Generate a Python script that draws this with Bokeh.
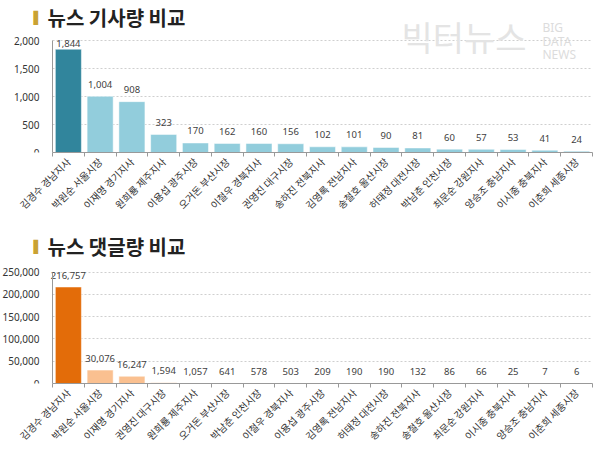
import numpy as np
from bokeh.plotting import figure
from bokeh.layouts import column
from bokeh.models import Range1d, FixedTicker, NumeralTickFormatter, Label, ColumnDataSource
from bokeh.embed import file_html
from bokeh.resources import INLINE
from bokeh.core.properties import value

# ---------------- data ----------------
title1 = "뉴스 기사량 비교"
names1 = ["김경수 경남지사", "박원순 서울시장", "이재명 경기지사", "원희룡 제주지사", "이용섭 광주시장",
          "오거돈 부산시장", "이철우 경북지사", "권영진 대구시장", "송하진 전북지사", "김영록 전남지사",
          "송철호 울산시장", "허태정 대전시장", "박남춘 인천시장", "최문순 강원지사", "양승조 충남지사",
          "이시종 충북지사", "이춘희 세종시장"]
values1 = [1844, 1004, 908, 323, 170, 162, 160, 156, 102, 101, 90, 81, 60, 57, 53, 41, 24]
yticks1 = [0, 500, 1000, 1500, 2000]

title2 = "뉴스 댓글량 비교"
names2 = ["김경수 경남지사", "박원순 서울시장", "이재명 경기지사", "권영진 대구시장", "원희룡 제주지사",
          "오거돈 부산시장", "박남춘 인천시장", "이철우 경북지사", "이용섭 광주시장", "김영록 전남지사",
          "허태정 대전시장", "송하진 전북지사", "송철호 울산시장", "최문순 강원지사", "이시종 충북지사",
          "양승조 충남지사", "이춘희 세종시장"]
values2 = [216757, 30076, 16247, 1594, 1057, 641, 578, 503, 209, 190, 190, 132, 86, 66, 25, 7, 6]
yticks2 = [0, 50000, 100000, 150000, 200000, 250000]

FONT = "Noto Sans CJK KR"
NUMFONT = "Noto Sans"

AXIS_X = 52      # pixel position of the value axis
PLOT_W = 540     # pixel width of the category area


def make_chart(title, names, vals, yticks, c_first, c_rest, height, bottom, title_y, logo=False):
    n = len(names)
    ymax = yticks[-1]
    frame_h = height - bottom
    grid_h = 112.0
    yend = ymax * frame_h / grid_h
    xstart = -AXIS_X * n / PLOT_W
    p = figure(width=600, height=height, output_backend="svg", toolbar_location=None,
               x_range=Range1d(xstart, n), y_range=Range1d(0, yend),
               min_border_left=0, min_border_right=8, min_border_top=0, min_border_bottom=bottom)
    p.outline_line_color = None
    p.background_fill_color = "white"
    p.border_fill_color = "white"
    p.xgrid.grid_line_color = None
    p.ygrid.ticker = FixedTicker(ticks=yticks)
    p.ygrid.grid_line_color = "#cfcfcf"
    p.ygrid.grid_line_dash = "2 2"
    p.ygrid.cross_bounds = (0, n)

    xs = [i + 0.5 for i in range(n)]
    colors = [c_first] + [c_rest] * (n - 1)
    per_px = ymax / grid_h
    label_y = [min(v + 12 * per_px, ymax - 3 * per_px) for v in vals]
    src = ColumnDataSource(dict(x=xs, top=vals, color=colors, ly=label_y,
                                txt=[f"{v:,}" for v in vals]))
    p.vbar(x="x", top="top", width=0.82, bottom=0, fill_color="color",
           line_color="white", line_width=0.5, source=src)
    p.text(x="x", y="ly", text="txt", source=src, text_align="center", text_baseline="middle",
           text_font=value(NUMFONT), text_font_size="9.5px", text_color="#404040")

    # x axis
    xa = p.xaxis[0]
    xa.bounds = (0, n)
    xa.ticker = FixedTicker(ticks=xs, minor_ticks=list(range(n + 1)))
    xa.major_label_overrides = {x: nm for x, nm in zip(xs, names)}
    xa.major_label_orientation = np.pi / 4
    xa.major_tick_line_color = None
    xa.major_tick_out = 0
    xa.minor_tick_line_color = "#999999"
    xa.minor_tick_out = 4
    xa.minor_tick_in = 0
    xa.axis_line_color = "#999999"
    xa.major_label_text_font = FONT
    xa.major_label_text_font_size = "10px"
    xa.major_label_text_color = "#333333"
    xa.major_label_standoff = 3

    ya = p.yaxis[0]
    ya.fixed_location = 0
    ya.ticker = FixedTicker(ticks=yticks)
    ya.bounds = (0, ymax)
    ya.formatter = NumeralTickFormatter(format="0,0")
    ya.major_tick_line_color = None
    ya.major_tick_out = 0
    ya.minor_tick_line_color = None
    ya.axis_line_color = "#999999"
    ya.major_label_text_font = NUMFONT
    ya.major_label_text_font_size = "10px"
    ya.major_label_text_color = "#333333"
    ya.major_label_standoff = 13

    # title
    p.add_layout(Label(x=33, y=title_y, x_units="screen", y_units="screen", text="▌",
                       text_font="DejaVu Sans", text_font_size="12px", text_color="#c9a233",
                       text_baseline="middle", text_align="left"))
    p.add_layout(Label(x=47, y=title_y, x_units="screen", y_units="screen", text=title,
                       text_font=FONT, text_font_size="20px", text_font_style="bold",
                       text_color="#222222", text_baseline="middle", text_align="left"))
    if logo:
        fb = height - bottom
        p.add_layout(Label(x=401, y=fb - 36, x_units="screen", y_units="screen", text="빅터뉴스",
                           text_font=FONT, text_font_size="34px", text_color="#e4e4e4",
                           text_baseline="middle", text_align="left"))
        for t, yy in [("BIG", 27), ("DATA", 41), ("NEWS", 54)]:
            p.add_layout(Label(x=542, y=fb - yy, x_units="screen", y_units="screen", text=t,
                               text_font=NUMFONT, text_font_size="12px", text_color="#dcdcdc",
                               text_baseline="middle", text_align="left"))
    return p


p1 = make_chart(title1, names1, values1, yticks1, "#31859c", "#92cddc",
                height=226, bottom=74, title_y=152 - 17, logo=True)
p2 = make_chart(title2, names2, values2, yticks2, "#e36c09", "#fac090",
                height=225, bottom=67, title_y=158 - 21)

layout = column(p1, p2, spacing=0)
open("out.html", "w").write(file_html(layout, INLINE))
